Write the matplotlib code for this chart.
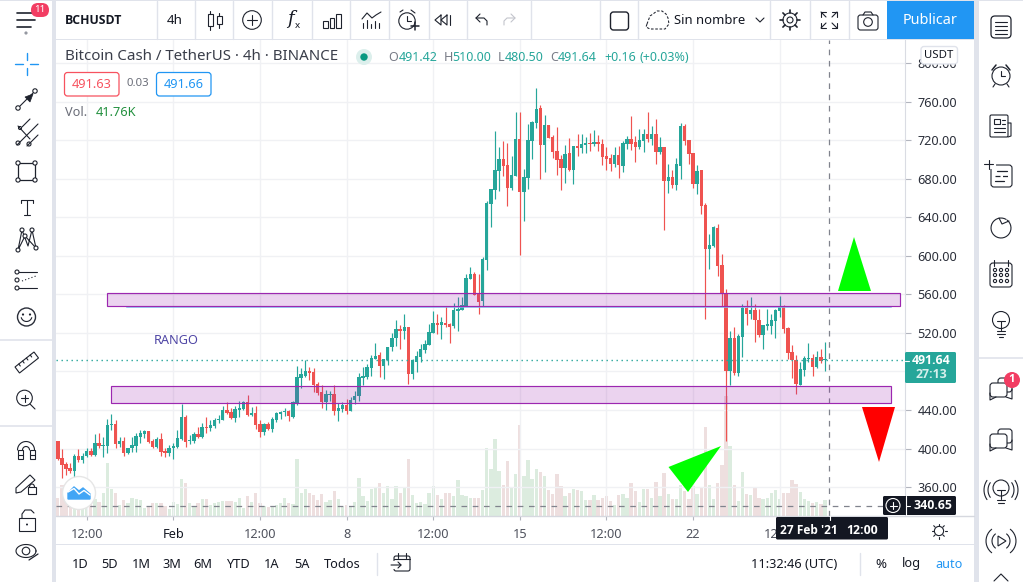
import matplotlib
matplotlib.use('Agg')
import matplotlib.pyplot as plt
from matplotlib.patches import Circle, Rectangle, FancyBboxPatch, Polygon
import numpy as np

plt.rcParams['font.family'] = ['Noto Sans', 'DejaVu Sans']

# 4h candles, bar 0 is 1 Feb 00:00
first_bar = -28
opens = [407.8,389.8,383.9,379.8,377,392.2,387.7,392.2,397.4,392.9,
         405.7,402.9,402.9,424.7,425.1,404.7,407.8,395.3,400.5,402.6,
         411.9,415.4,418.2,408.1,401.6,410.2,397.4,395.3,400.2,401.6,
         410.2,433,407.4,408.1,415,411.9,422.3,421.6,423.7,429.2,
         429.9,439.9,437.9,432,440.3,441,447.9,435.1,436.5,425.4,
         416.8,425.8,420.2,429.6,435.8,437.9,438.9,433,446.8,473.5,
         475.2,480,479.4,467.3,458.3,448.6,455.5,456.5,438.5,441,
         445.2,439.3,450.4,454.5,473.2,474.6,483.9,492.9,497,485.6,
         491.9,505.4,514.7,524,522,526.1,477.3,489.8,495,502.3,
         507.4,519.9,530.2,528.2,530.2,529.2,527.1,542.7,543.7,547.9,
         575.9,581.1,560.3,553,595.6,653.7,668.2,687.9,700.3,694.1,
         670.3,682.7,721.1,666.1,680.6,719,737.7,753.3,714.9,735.6,
         723.2,708.6,700.3,691,706.6,688.9,713.8,711.8,714.9,716.9,
         715.9,718,715.9,703.5,701.4,695.2,704.5,693.1,715.9,721.1,
         718,712.8,719,726.3,721.1,726.3,707.6,712.8,677.5,681.7,
         673.4,693.1,734.6,720,706.6,674.4,688.9,652.6,606.9,610,
         628.7,590.3,560.9,480.4,514.6,478.6,515.6,545.7,539.5,543.7,
         533.3,517.7,527.1,527.1,532.3,542.6,546.8,525,500.1,491.8,
         465.9,481.4,492.8,493.9,484.5,494.9,491.42]
highs = [407.8,399.1,386,385.3,394.3,399.1,395,400.2,400.2,415,
         415.7,412.3,430.3,435.8,429.6,412.3,412.3,400.9,412.3,416.4,
         419.2,419.2,418.2,409.5,411.6,415.7,400.2,403.6,405.4,419.2,
         446.2,434.8,414,417.5,422.6,426.1,432.3,429.6,431.3,434.8,
         444.1,447.9,441.7,444.1,449.6,449.6,455.5,442.7,444.1,429.6,
         426.8,427.8,433,437.5,438.9,441.7,439.9,449.6,485.6,483.2,
         491.8,484.9,483.9,468.6,465.9,460.7,460,465.5,446.8,448,
         451.4,453.5,459.7,478.4,484.6,487.7,497,509.5,500.2,492.9,
         505.4,520.2,533.4,528.2,539.6,526.1,492.9,501.2,508.5,512.6,
         529.2,542.7,539.6,536.5,547.9,530.2,551,557.2,557.2,581.1,
         588.3,583.2,581.1,598.7,656.8,669.2,729.4,712.8,719,716.9,
         703.5,749.1,749.1,690,736.7,739.8,774,756.4,746,735.6,
         725.2,733.5,704.5,714.9,722.1,713.8,726.3,726.3,723.2,727.3,
         730.4,725.2,721.1,712.8,705.5,712.8,713.8,719,724.2,745,
         724.2,731.5,731.5,749.1,734.6,741.8,723.2,712.8,695.2,688.9,
         701.4,737.7,736.7,720,706.6,694.1,688.9,654.7,622.5,630.8,
         632.9,601.8,565.4,521.9,526,518.8,549.9,554,557.1,549.9,
         544.7,528.1,544.7,539.5,544.7,558.2,548.8,526,507.4,497,
         489.7,495.9,509.4,498,501.1,503.2,510]
lows = [388.1,369.7,372.5,374.9,369.7,386.3,385.3,391.5,392.6,392.2,
        400.2,391.5,395.7,419.2,400.9,401.9,392.6,394.3,396,396.7,
        405.4,410.5,406.1,400.9,400.2,392.2,390.8,392.2,389.1,400.2,
        408.8,401.9,404.7,405.4,411.2,410.5,416.4,418.5,420.9,426.8,
        429.2,435.8,430.3,427.5,433,439.9,434,434,419.9,412.3,
        414,419.2,416.8,427.8,430.3,433.7,428.9,432,445.1,463.1,
        473.8,471,459,455.5,442.4,440,449.6,434.8,428.9,438.3,
        435.8,439.3,446.2,449.3,465.6,472.2,475.3,492.9,474.2,472.2,
        486.7,501.2,506.4,503.3,513.6,467,472.2,479.4,489.8,499.1,
        507.4,519.5,518.8,513.6,526.1,509.5,525,522,543.7,547.9,
        575.9,559.3,539.6,547.9,585,629.8,658.8,667.2,682.7,651.6,
        668.2,682.7,600.8,636,669.2,700.3,732.5,679.6,686.9,722.1,
        701.4,683.7,668.2,675.4,687.9,674.4,703.5,706.6,706.6,708.6,
        713.8,708.6,694.1,688.9,687.9,692,680.6,686.9,710.7,709.7,
        697.2,710.7,707.6,718,714.9,695.2,705.5,626.7,665.1,670.3,
        668.2,679.6,714.9,695.2,670.3,664.1,643.3,534.7,586.2,609.4,
        578.9,547.8,408.1,465.9,476,475.2,494.9,528.1,534.3,510.5,
        515.6,503.2,522.9,518.8,514.6,536.4,519.8,492.8,473.1,456.5,
        465.9,475.2,489.7,475.2,483.5,488.7,480.5]
closes = [389.1,382.9,378.7,376.7,392.2,387.7,391.9,397,392.9,405.7,
          402.6,403.6,424.4,425.4,405,407.8,395.7,400.5,403.6,413,
          416.1,418.2,407.1,401.9,409.9,396.7,395.7,400.5,402.9,410.9,
          433,407.1,408.8,415.4,411.9,422.3,421.6,424.4,429.6,430.6,
          439.9,437.2,432,440.6,441.7,447.9,435.1,436.8,424.4,417.5,
          425.8,420.2,430.6,436.5,437.9,438.9,433.7,448.6,473.8,477.3,
          480,478.7,465.5,457.2,447.9,456.5,456.5,439.2,441.7,445.2,
          439.3,450.4,454.5,474.2,475.3,484.6,493.9,496,485.6,492.9,
          505.4,514.7,524,522.3,526.1,477.3,491.5,496,503.3,508.5,
          520.9,530.2,528.2,531.3,528.2,526.1,543.7,545.1,548.9,576.9,
          581.1,559.3,552,596.6,654.7,669.2,689,700.3,693.1,670.3,
          683.7,721.1,666.1,681.7,720,738.7,752.2,714.9,735.6,722.1,
          707.6,699.3,691,705.5,688.9,713.8,711.8,715.9,716.9,716.3,
          718,715.9,702.4,700.3,695.2,704.5,694.1,716.9,721.1,715.9,
          712.8,720,726.3,721.1,726.3,707.6,712.8,677.5,681.7,673.4,
          695.2,734.6,719,705.5,674.4,687.9,651.6,607,611.1,629.8,
          589.3,560.9,480.4,514.6,478.6,516.7,545.7,539.5,543.7,533.3,
          517.7,528.1,528.8,533.3,543.7,546.8,524,499.1,491.8,466.9,
          482.5,493.9,493.9,484.5,494.9,490.8,491.64]
volumes = [49,83,53,44,44,53,36,37,44,44,
           37,60,140,73,60,28,43,34,49,44,
           43,20,23,34,34,34,27,18,36,31,
           98,89,34,23,34,44,44,28,34,37,
           40,40,40,37,48,21,53,36,62,34,
           27,23,27,28,34,48,34,32,151,60,
           73,62,57,43,58,37,43,66,44,23,
           28,27,37,100,52,40,71,74,87,60,
           80,46,80,60,76,151,55,34,36,31,
           60,80,55,44,60,60,52,95,55,52,
           49,49,49,69,182,124,204,120,82,147,
           74,111,242,107,148,98,126,117,107,69,
           58,111,80,52,60,71,69,66,42,42,
           55,42,49,53,40,28,55,58,49,87,
           67,37,71,71,49,91,53,114,58,44,
           46,82,67,44,80,58,76,236,82,44,
           89,135,319,185,82,40,117,58,55,76,
           48,44,47,60,68,44,60,60,97,84,
           64,44,40,34,36,33,41.76]

price_ticks = [360, 400, 440, 480, 520, 560, 600, 640, 680, 720, 760, 800]
price_labels = ['360.00', '400.00', '440.00', '', '520.00', '560.00', '600.00', '640.00', '680.00', '720.00', '760.00', '800.00']
time_ticks = [-21, 0, 21, 42, 63, 84, 105, 126, 147]
time_labels = ['12:00', 'Feb', '12:00', '8', '12:00', '15', '12:00', '22', '12:00']

last_price = 491.64
cross_price = 340.65
cross_bar = 159
upper_zone = (547.8, 561.3)
lower_zone = (447.2, 464.9)
support_line = 546.4

UP = '#26a69a'
DOWN = '#ef5350'
TEXT = '#131722'
ICON = '#1e222d'
BORDER = '#e0e3eb'
GRID = '#f0f1f4'
BOLD = ['Open Sans', 'DejaVu Sans']

W, H = 1023, 582
fig = plt.figure(figsize=(W / 100, H / 100), dpi=100, facecolor='white')

# chart area in pixels: x 56-905, y 40-516
ax = fig.add_axes([56 / W, 1 - 516 / H, 849 / W, 476 / H])
vol_ax = ax.twinx()
ax.set_zorder(vol_ax.get_zorder() + 1)
ax.patch.set_visible(False)

bars = np.arange(first_bar, first_bar + len(opens))
o, h, l, c = map(np.array, (opens, highs, lows, closes))
colors = np.where(c >= o, UP, DOWN)

# volume underneath
vol_colors = np.where(c >= o, '#dcecdf', '#eedfdf')
vol_ax.bar(bars, volumes, width=0.8, color=vol_colors, linewidth=0)
vol_ax.set_ylim(0, 1266)
vol_ax.yaxis.set_visible(False)
for s in vol_ax.spines.values():
    s.set_visible(False)

ax.vlines(bars, l, h, colors=colors, linewidth=0.85, zorder=3)
body_low = np.minimum(o, c)
body_h = np.maximum(np.abs(c - o), 1.1)
ax.bar(bars, body_h, bottom=body_low, width=0.82, color=colors, linewidth=0, zorder=4)

ax.set_xlim(-28.44, 177.4)
ax.set_ylim(330.0, 823.8)
ax.yaxis.tick_right()
ax.set_yticks(price_ticks)
ax.set_yticklabels(price_labels)
ax.set_xticks(time_ticks)
ax.set_xticklabels(time_labels)
ax.tick_params(axis='y', length=4, width=0.8, color='#b2b5be', labelsize=9.1, labelcolor='#2a2e39', pad=5)
ax.tick_params(axis='x', length=3, width=0.8, color='#b2b5be', labelsize=9.2, labelcolor='#50535e', pad=6)
ax.get_xticklabels()[1].set_color(TEXT)
ax.grid(True, color=GRID, linewidth=1.0)
ax.set_axisbelow(True)
for name, s in ax.spines.items():
    s.set_visible(name == 'right')
    s.set_color('#dadce3')

# price line and crosshair
ax.axhline(last_price, color=UP, linewidth=1, linestyle=(0, (1, 2.6)), zorder=5)
ax.axhline(cross_price, color='#80838d', linewidth=0.9, linestyle=(0, (4.5, 4.5)), zorder=5)
ax.axvline(cross_bar, color='#80838d', linewidth=0.9, linestyle=(0, (4.5, 4.5)), zorder=5)

# drawn zones
zone_fc = (156 / 255, 39 / 255, 176 / 255, 0.2)
ax.plot([-11.3, 174], [support_line, support_line], color='#7fbdf0', linewidth=1.1, zorder=5)
ax.add_patch(Rectangle((-16.07, upper_zone[0]), 192.3, upper_zone[1] - upper_zone[0],
                       facecolor=zone_fc, edgecolor='#9c27b0', linewidth=0.85, zorder=6))
ax.add_patch(Rectangle((-15.1, lower_zone[0]), 189.1, lower_zone[1] - lower_zone[0],
                       facecolor=zone_fc, edgecolor='#9c27b0', linewidth=0.85, zorder=6))

# everything else on a pixel overlay
ui = fig.add_axes([0, 0, 1, 1], zorder=10)
ui.set_xlim(0, W)
ui.set_ylim(H, 0)
ui.set_autoscale_on(False)
ui.axis('off')
ui.patch.set_visible(False)


def ln(xs, ys, col=ICON, lw=0.8, **kw):
    ui.plot(xs, ys, color=col, linewidth=lw, solid_capstyle='round', **kw)


def circ(x, y, r, fc='none', ec=ICON, lw=0.8, z=3):
    ui.add_patch(Circle((x, y), r, facecolor=fc, edgecolor=ec, linewidth=lw, zorder=z))


def box(x0, y0, x1, y1, fc='none', ec=ICON, lw=0.8, r=0, z=2):
    if r:
        ui.add_patch(FancyBboxPatch((x0 + r, y0 + r), x1 - x0 - 2 * r, y1 - y0 - 2 * r,
                                    boxstyle='round,pad=%g,rounding_size=%g' % (r, r),
                                    facecolor=fc, edgecolor=ec, linewidth=lw, zorder=z))
    else:
        ui.add_patch(Rectangle((x0, y0), x1 - x0, y1 - y0, facecolor=fc, edgecolor=ec, linewidth=lw, zorder=z))


def txt(x, y, s, size=9.2, col=TEXT, ha='center', weight='normal', **kw):
    if weight == 'bold':
        kw['family'] = BOLD
    ui.text(x, y, s, fontsize=size, color=col, ha=ha, va='center', fontweight=weight, zorder=8, **kw)


# frame
box(52, 0, 56, H, fc=BORDER, ec='none')
box(974, 0, 979, H, fc=BORDER, ec='none')
box(0, 0, W, 1, fc=BORDER, ec='none')
box(56, 38.5, 974, 40, fc=BORDER, ec='none')
box(56, 543.5, 974, 545, fc=BORDER, ec='none')
ln([56, 974], [516, 516], col='#d6d8df', lw=1)
for yy in (340, 426):
    ln([0, 52], [yy, yy], col=BORDER, lw=1.2)
ln([979, W], [358, 358], col=BORDER, lw=1.2)
for xx in (157, 195, 233, 272, 312, 350, 389, 428.5, 467, 531, 600, 638, 770, 810, 849):
    ln([xx, xx], [1, 38.5], col=BORDER, lw=1)
ln([377, 377], [553, 575], col=BORDER, lw=1)
ln([860, 860], [553, 575], col=BORDER, lw=1)

# top bar
txt(65, 20, 'BCHUSDT', size=8.8, ha='left', weight='bold')
txt(175, 20, '4h', size=9.6)
txt(709.5, 20, 'Sin nombre', size=9.4)
box(887, 1, 974, 38.5, fc='#2196f3', ec='none')
txt(930.5, 20, 'Publicar', size=10.4, col='white')

# hamburger + badge
for yy in (13, 20, 27):
    ln([17, 35 if yy != 27 else 31], [yy, yy], lw=1.2)
box(31, 3, 49, 17, fc='#f23d63', ec='none', r=7, z=4)
txt(40, 10, '11', size=7, col='white')
circ(26, 33, 1.6, fc='#9598a1', ec='none')

# legend
txt(65, 57, 'Bitcoin Cash / TetherUS · 4h · BINANCE', size=10.85, ha='left', col='#3a3e4a')
circ(364, 57, 8, fc='#dcefec', ec='none')
circ(364, 57, 3.7, fc='#089981', ec='none')
for x_, s_, col_ in [(388, 'O', '#787b86'), (398.5, '491.42', UP), (444, 'H', '#787b86'), (452.5, '510.00', UP),
                     (498, 'L', '#787b86'), (505, '480.50', UP), (550.5, 'C', '#787b86'), (558, '491.64', UP),
                     (604, '+0.16', UP), (640, '(+0.03%)', UP)]:
    txt(x_, 57.5, s_, size=9, col=col_, ha='left')
box(64.5, 72.5, 119, 96, fc='white', ec='#f7525f', lw=0.9, r=3)
txt(91.5, 84.5, '491.63', size=9.2, col='#f7525f')
txt(138, 84, '0.03', size=8.2, col='#6a6d78')
box(156.5, 72.5, 211, 96, fc='white', ec='#2196f3', lw=0.9, r=3)
txt(183.5, 84.5, '491.66', size=9.2, col='#2196f3')
txt(65, 113, 'Vol.', size=9.2, ha='left', col='#6a6d78')
txt(96, 113, '41.76K', size=9.2, ha='left', col='#22903e')
txt(176, 340.5, 'RANGO', size=9.2, col='#4f46a5')

# arrows drawn by the user
ui.add_patch(Polygon([(854, 237), (838, 291), (871, 291)], facecolor='#00ff00', edgecolor='none', zorder=6))
ui.add_patch(Polygon([(862, 407), (895, 407), (879, 462)], facecolor='#ff0000', edgecolor='none', zorder=6))
ui.add_patch(Polygon([(721, 446), (668.5, 467), (688, 492)], facecolor='#00ff00', edgecolor='none', zorder=6))

# price scale tags
box(921, 46.5, 957.5, 64, fc='white', ec=BORDER, lw=1, r=3, z=4)
txt(939, 55, 'USDT', size=8.2)
box(905, 352, 956, 383, fc=UP, ec='none', r=1.5, z=4)
txt(931, 361, '491.64', size=8.8, col='white', weight='bold')
txt(931, 375, '27:13', size=8.8, col='#d6efec', weight='bold')
ln([905, 909], [360.5, 360.5], col='white', lw=0.8, zorder=5)
box(883, 496, 956, 515, fc='#131722', ec='none', r=1.5, z=4)
ln([905.5, 905.5], [496, 515], col='white', lw=0.8, zorder=5)
circ(893, 505.5, 7, ec='white', lw=0.8, z=5)
ln([889.5, 896.5], [505.5, 505.5], col='white', lw=0.8, zorder=5)
ln([893, 893], [502, 509], col='white', lw=0.8, zorder=5)
ln([905.5, 910], [505.5, 505.5], col='white', lw=0.8, zorder=5)
txt(932.5, 505.5, '340.65', size=8.8, col='white', weight='bold')
box(776, 517, 888, 539.5, fc='#131722', ec='none', r=1.5, z=4)
txt(809, 531, "27 Feb '21", size=8.6, col='white', weight='bold')
txt(862, 531, '12:00', size=8.8, col='white', weight='bold')
ln([829.5, 829.5], [516, 520], col='white', lw=0.8, zorder=5)

# bottom bar
for x_, s_ in [(80, '1D'), (110, '5D'), (141, '1M'), (172, '3M'), (203, '6M'), (238, 'YTD'),
               (272, '1A'), (302, '5A'), (342, 'Todos')]:
    txt(x_, 564, s_, size=9.2)
txt(794, 564.5, '11:32:46 (UTC)', size=9.2)
txt(881, 564, '%', size=9.6)
txt(911, 564, 'log', size=9.2)
txt(949, 564, 'auto', size=9.2, col='#2196f3')
box(394, 556, 410, 571, ec=ICON, r=2)
box(390, 561, 397, 568, fc='white', ec='white', z=3)
ln([398, 398], [553, 558], zorder=4); ln([406, 406], [553, 558], zorder=4)
ln([394, 410], [559, 559], zorder=4)
ln([391, 401, 398], [565, 565, 562], zorder=4)
ln([401, 398], [565, 568], zorder=4)

# sun
circ(939, 531, 4.6)
for a in np.arange(0, 2 * np.pi, np.pi / 4):
    ln([939 + 5.5 * np.cos(a), 939 + 7.5 * np.cos(a)], [531 + 5.5 * np.sin(a), 531 + 7.5 * np.sin(a)])

# watermark logo
circ(79, 493, 16.5, fc='white', ec='#e6e6e6', lw=1)
ui.add_patch(Polygon([(68, 499), (68, 493), (74, 487), (79, 491), (83, 488), (90, 494), (90, 499)],
                     facecolor='#42a5f5', edgecolor='#42a5f5', linewidth=1, zorder=5))
ln([68, 74, 79, 84, 90], [492, 488.5, 494, 490.5, 495], col='white', lw=1, zorder=6)

# top toolbar icons
ln([210, 210], [11, 30]); box(207.5, 14, 212.5, 26, fc='white', z=3)
ln([219, 219], [13, 28]); box(216.5, 16, 221.5, 24, fc='white', z=3)
circ(252, 20, 9.3)
ln([247, 257], [20, 20]); ln([252, 252], [15, 25])
txt(290, 19.5, 'f', size=13, style='italic', family='DejaVu Serif')
txt(297, 26, 'x', size=7)
for x0, y0 in [(323, 21), (329.5, 18), (336, 14)]:
    box(x0, y0, x0 + 4.5, 28)
ln([362, 367, 372, 376, 381], [19, 13, 18, 15, 12])
for x_, y_ in [(363, 23), (367, 20), (371, 24), (375, 21), (379, 23)]:
    ln([x_, x_], [y_, 28])
circ(407, 21, 8.2)
ln([407, 407, 411], [16, 21, 21])
ln([400, 403], [12, 10]); ln([411, 415], [10, 13])
ln([411, 419], [26, 26], lw=1.1, zorder=5); ln([415, 415], [22, 30], lw=1.1, zorder=5)
ln([447, 441, 447, 447], [15, 20, 25, 15]); ln([441, 435, 441, 441], [15, 20, 25, 15])
ln([450, 450], [15, 25])
ln([480, 476, 480], [14, 18, 22]); ln([476, 484, 487, 487], [18, 18, 21, 25])
ln([511, 515, 511], [14, 18, 22], col='#c3c5cc'); ln([515, 507, 504, 504], [18, 18, 21, 25], col='#c3c5cc')
box(610.5, 12, 628.5, 30, r=3, lw=1)
ui.plot([647, 650, 653, 657, 662, 666, 668, 669, 665, 650, 646, 647],
        [24, 16, 14, 11, 11, 14, 18, 24, 29, 29, 27, 24], color=ICON, lw=0.75, ls=(0, (2.5, 1.6)))
ln([756, 760, 764], [18, 22, 18])
circ(790, 20, 3)
circ(790, 20, 7)
for a in np.arange(0, 2 * np.pi, np.pi / 4):
    ln([790 + 7 * np.cos(a), 790 + 10 * np.cos(a)], [20 + 7 * np.sin(a), 20 + 10 * np.sin(a)], lw=1.2)
for sx, sy in [(-1, -1), (1, -1), (-1, 1), (1, 1)]:
    ln([829 + 3 * sx, 829 + 8 * sx, 829 + 8 * sx], [20 + 8 * sy, 20 + 8 * sy, 20 + 3 * sy])
    ln([829 + 8 * sx, 829 + 3 * sx], [20 + 8 * sy, 20 + 3 * sy])
box(858, 15, 878, 30, r=2.5)
ln([863, 865, 871, 873], [15, 12, 12, 15])
circ(868, 22, 4.3)

# left toolbar icons
B = '#2196f3'
ln([15, 23], [64, 64], col=B, lw=1); ln([30, 38], [64, 64], col=B, lw=1)
ln([26.5, 26.5], [53, 60], col=B, lw=1); ln([26.5, 26.5], [68, 75], col=B, lw=1)
ln([20, 33], [106, 93]); circ(18, 108, 2.2); circ(35, 91, 2.2)
ui.add_patch(Polygon([(33, 94), (25, 97), (30, 102)], facecolor=ICON, edgecolor=ICON, lw=0.5, zorder=4))
ln([18, 30], [126, 139]); ln([22, 30], [127, 119]); ln([17, 38], [145, 124]); ln([27, 38], [146, 135])
circ(18, 143, 2); circ(29, 144, 2); circ(20, 128, 1.5)
box(18, 163, 35, 180, lw=0.9)
for x_, y_ in [(18, 163), (35, 163), (18, 180), (35, 180)]:
    circ(x_, y_, 2.1, fc='white')
ln([21, 33], [200, 200]); ln([27, 27], [200, 215]); ln([21, 21], [200, 203]); ln([33, 33], [200, 203]); ln([24, 30], [215, 215])
ln([18, 22, 28, 32, 36, 25, 18], [250, 230, 246, 230, 248, 236, 250])
for x_, y_ in [(18, 250), (22, 230), (25, 236), (32, 230), (36, 248)]:
    circ(x_, y_, 2, fc='white')
for yy in (272, 288):
    ln([18, 37], [yy, yy]); circ(17, yy, 2, fc='white')
circ(17, 280, 2, fc='white')
ln([22, 36], [281, 276], lw=0.8, ls=(0, (1, 2)))
circ(26.5, 317, 9, ec='#2a2e39', lw=1)
circ(23, 314.5, 1.1, fc=ICON, ec='none'); circ(30, 314.5, 1.1, fc=ICON, ec='none')
ang = np.linspace(0.3, np.pi - 0.3, 12)
ln(26.5 + 5.5 * np.cos(ang), 316 + 5.5 * np.sin(ang))
ui.add_patch(Polygon([(15, 367), (34, 352), (38.5, 358), (19.5, 373)], facecolor='none', edgecolor=ICON, lw=0.8, zorder=3))
for t_ in (0.2, 0.4, 0.6, 0.8):
    ln([15 + 19 * t_, 16.5 + 19 * t_], [367 - 15 * t_, 369 - 15 * t_])
circ(24.5, 398, 7.8)
ln([21, 28], [398, 398]); ln([24.5, 24.5], [394.5, 401.5]); ln([30, 35], [404, 409])
ang = np.linspace(np.pi, 2 * np.pi, 20)
ln(26 + 8.5 * np.cos(ang), 450 + 8.5 * np.sin(ang))
ln(26 + 3.5 * np.cos(ang), 450 + 3.5 * np.sin(ang))
for x_ in (17.5, 29.5):
    box(x_, 450, x_ + 5, 459)
ln([17.5, 22.5], [455, 455]); ln([29.5, 34.5], [455, 455])
ui.add_patch(Polygon([(16, 488), (30, 475), (35, 480), (21, 492), (16, 493)], facecolor='none', edgecolor=ICON, lw=0.8, zorder=3))
box(28, 487, 36, 494, fc='white', z=4)
ang = np.linspace(np.pi, 2 * np.pi, 10)
ln(32 + 2.5 * np.cos(ang), 487 + 3 * np.sin(ang), zorder=4)
box(19, 518, 35, 531)
ln([22, 22, 25, 31, 34], [518, 514, 510, 510, 513])
circ(27, 524.5, 1, fc=ICON, ec='none')
th = np.linspace(0, 2 * np.pi, 40)
ln(26 + 10 * np.cos(th), 551 + 6.5 * np.sin(th))
circ(26, 551, 3.8)
ln([29, 38], [560, 554], lw=0.9)

# right toolbar icons
rx = 1001
box(rx - 10, 16, rx + 10, 38, r=4, lw=0.9)
for yy in (22, 26, 30, 34):
    ln([rx - 6, rx + 6], [yy, yy], lw=0.8)
circ(rx, 76, 9)
ln([rx, rx, rx + 4], [71, 76, 76])
ln([rx - 9, rx - 5], [70, 65], lw=1.1); ln([rx + 5, rx + 9], [65, 70], lw=1.1)
ln([rx - 6, rx - 8], [84, 87]); ln([rx + 6, rx + 8], [84, 87])
box(rx - 11, 115, rx + 7, 137, r=1.5)
ln([rx + 7, rx + 10, rx + 10, rx + 7], [123, 123, 136, 137])
box(rx - 7, 119, rx - 1, 124)
for yy, xe in [(120, 4), (124, 4), (128, 4), (132, 4)]:
    ln([rx + 1 if yy < 126 else rx - 7, rx + xe], [yy, yy], lw=0.8)
box(rx - 10, 165, rx + 11, 187, r=3)
box(rx - 13, 160, rx - 6, 168, fc='white', ec='white', z=3)
ln([rx - 17, rx - 8], [164, 164], lw=0.8, zorder=4); ln([rx - 12.5, rx - 12.5], [160, 169], lw=0.8, zorder=4)
ln([rx - 4, rx + 6], [171, 171], lw=0.9); ln([rx - 6, rx + 7], [176, 176], lw=0.9, ls=(0, (4, 2))); ln([rx - 6, rx + 3], [181, 181], lw=0.9)
ang = np.linspace(-0.9, 3.6 + np.pi / 2 * 1.05, 30)
ln(rx + 10 * np.cos(ang), 228 + 10 * np.sin(ang))
ln([rx - 2, rx + 1, rx + 8], [218, 224, 221])
box(rx - 11, 263, rx + 11, 287, r=3)
ln([rx - 7, rx - 7], [260, 266]); ln([rx + 7, rx + 7], [260, 266])
for yy in (270, 275, 281):
    for xx in (-6, 0, 6):
        circ(rx + xx, yy, 1.6)
circ(rx, 320, 8.5)
ln([rx - 4, rx + 4], [321, 321]); ln([rx, rx], [321, 330])
ln([rx - 4, rx + 4], [331, 331]); ln([rx - 4, rx + 4], [334, 334]); ln([rx - 2, rx + 2], [337, 337])
for y0 in (388, 439):
    box(rx - 3, y0 - 10, rx + 11, y0 + 4, fc='white', r=3, z=2)
    box(rx - 11, y0 - 5, rx + 6, y0 + 9, fc='white', r=3, z=3)
    ln([rx - 11, rx - 11, rx - 5], [y0 + 5, y0 + 12, y0 + 9], zorder=4)
    ln([rx + 11, rx + 11, rx + 5], [y0 + 1, y0 + 11, y0 + 9], zorder=4)
circ(1012, 380, 8, fc='#f23d63', ec='none', z=5)
txt(1012, 380, '1', size=8, col='white', weight='bold')
circ(rx, 488, 8)
ln([rx - 4, rx + 4], [490, 490]); ln([rx, rx], [490, 499])
ln([rx - 4, rx + 4], [500, 500]); ln([rx - 3, rx + 3], [503, 503])
for sgn in (-1, 1):
    for r_ in (13, 17):
        ang = np.linspace(-0.6, 0.6, 10)
        ln(rx + sgn * r_ * np.cos(ang), 490 + r_ * np.sin(ang))
ui.add_patch(Polygon([(rx - 3, 536), (rx + 5, 541), (rx - 3, 546)], facecolor='none', edgecolor=ICON, lw=0.8, zorder=3))
for sgn in (-1, 1):
    for r_ in (9, 15):
        ang = np.linspace(-0.9, 0.9, 12)
        ln(rx + sgn * r_ * np.cos(ang), 541 + r_ * np.sin(ang))
ln([rx - 7, rx, rx + 7], [581, 574, 581])

fig.savefig('out.png', dpi=100, facecolor='white')
